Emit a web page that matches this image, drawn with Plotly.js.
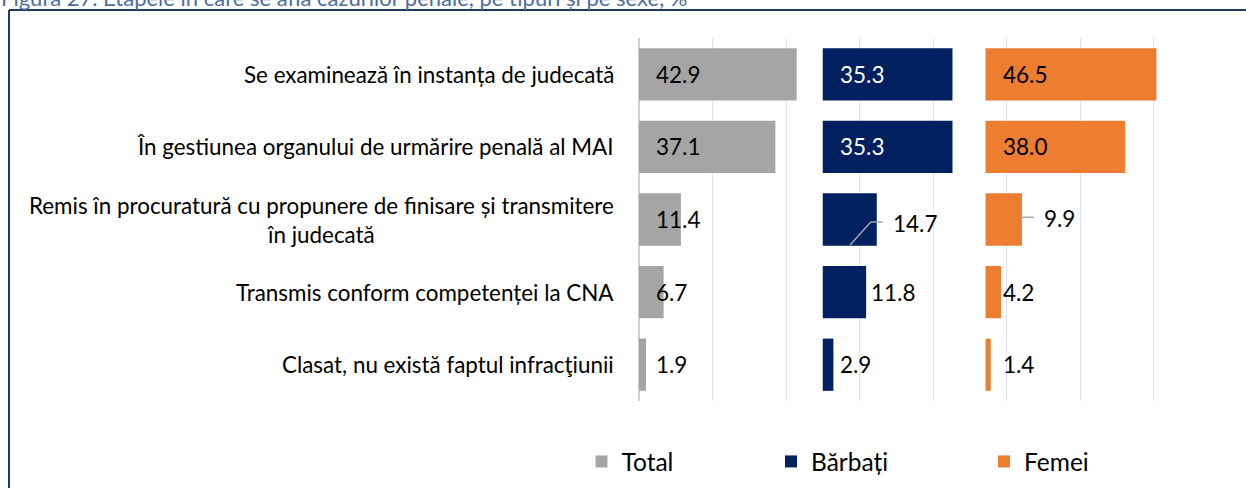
<!DOCTYPE html>
<html>
<head>
<meta charset="utf-8">
<script src="https://cdn.plot.ly/plotly-3.0.1.min.js"></script>
<style>
  html, body { margin: 0; padding: 0; background: #ffffff; }
  #chart { width: 1246px; height: 488px; }
</style>
</head>
<body>
<div id="chart"></div>
<script>
// ---------- DATA ----------
const chartTitle = 'Figura 27. Etapele în care se află cazurilor penale, pe tipuri și pe sexe, %';
const categories = [
  'Se examinează în instanța de judecată',
  'În gestiunea organului de urmărire penală al MAI',
  'Remis în procuratură cu propunere de finisare și transmitere<br>în judecată',
  'Transmis conform competenței la CNA',
  'Clasat, nu există faptul infracţiunii'
];
const seriesNames = ['Total', 'Bărbați', 'Femei'];
const totalValues = [42.9, 37.1, 11.4, 6.7, 1.9];
const menValues   = [35.3, 35.3, 14.7, 11.8, 2.9];
const womenValues = [46.5, 38.0, 9.9, 4.2, 1.4];

// ---------- LAYOUT / STYLE ----------
const W = 1246, H = 488;
const M = { l: 639, r: 19, t: 38, b: 87 };
const plotW = W - M.l - M.r, plotH = H - M.t - M.b;
const px2paperX = px => (px - M.l) / plotW;
const px2paperY = py => (H - M.b - py) / plotH;

const FONT = 'Lato, "Open Sans", sans-serif';
const colors = ['#A5A5A5', '#002060', '#ED7D31'];
const panelStart = [0, 50, 94.3];           // where each panel's bars begin on the shared axis
const allValues = [totalValues, menValues, womenValues];
const legendIds = ['legend', 'legend2', 'legend3'];
const legendCenters = [606.5, 796, 1009];   // pixel x of legend squares

// label placement overrides: [seriesIndex][categoryIndex]
const labelMode = {
  1: { 2: 'leader', 3: 'end' },
  2: { 2: 'leader' }
};

const traces = allValues.map((vals, s) => ({
  type: 'bar',
  orientation: 'h',
  name: seriesNames[s],
  y: categories,
  x: vals,
  base: vals.map(() => panelStart[s]),
  marker: { color: colors[s], line: { width: 0 } },
  width: 0.72,
  legend: legendIds[s],
  hoverinfo: 'skip'
}));

const annotations = [];

// title (cut at the top edge, as in the reference)
annotations.push({
  xref: 'paper', yref: 'paper',
  x: px2paperX(-1), y: px2paperY(-3),
  xanchor: 'left', yanchor: 'middle',
  text: chartTitle, showarrow: false,
  font: { family: FONT, size: 22, color: '#4E6E9E' }
});

// category labels
categories.forEach(c => {
  annotations.push({
    xref: 'paper', yref: 'y',
    x: 0, y: c, xanchor: 'right', yanchor: 'middle',
    xshift: -23, align: 'center',
    text: c, showarrow: false,
    font: { family: FONT, size: 22.4, color: '#000000' }
  });
});

// data labels
const shapes = [];
allValues.forEach((vals, s) => {
  vals.forEach((v, i) => {
    const mode = (labelMode[s] && labelMode[s][i]) || 'base';
    let x = panelStart[s], xshift = 15, yshift = 0;
    if (mode === 'end') { x = panelStart[s] + v; xshift = 3; }
    if (mode === 'leader') {
      x = panelStart[s] + v;
      if (s === 1) { xshift = 14; yshift = -4; }
      else { xshift = 20; yshift = 1; }
    }
    const dark = (s === 1 && mode === 'base' && v >= 20);
    annotations.push({
      xref: 'x', yref: 'y', x: x, y: categories[i],
      xanchor: 'left', yanchor: 'middle',
      xshift: xshift, yshift: yshift,
      text: v.toFixed(1), showarrow: false,
      font: { family: FONT, size: 22.5, color: dark ? '#ffffff' : '#000000' }
    });
    if (mode === 'leader') {
      const segs = (s === 1)
        ? [[6, -2.5, -6, -2.5], [-6, -2.5, -26.7, -25.5]]
        : [[-1, 2.2, 12, 2.2]];
      segs.forEach(sg => shapes.push({
        type: 'line', xref: 'x', yref: 'y',
        xsizemode: 'pixel', ysizemode: 'pixel',
        xanchor: panelStart[s] + v, yanchor: categories[i],
        x0: sg[0], y0: sg[1], x1: sg[2], y1: sg[3],
        line: { color: '#A6A6A6', width: 1.5 }, layer: 'above'
      }));
    }
  });
});

// outer frame (top and left edges)
shapes.push({ type: 'line', xref: 'paper', yref: 'paper',
  x0: px2paperX(9), x1: px2paperX(W + 2), y0: px2paperY(10), y1: px2paperY(10),
  line: { color: '#203864', width: 2 } });
shapes.push({ type: 'line', xref: 'paper', yref: 'paper',
  x0: px2paperX(9), x1: px2paperX(9), y0: px2paperY(10), y1: px2paperY(H + 2),
  line: { color: '#203864', width: 2 } });

const layout = {
  width: W, height: H,
  margin: M,
  paper_bgcolor: '#ffffff', plot_bgcolor: '#ffffff',
  barmode: 'overlay',
  showlegend: true,
  xaxis: {
    range: [0, 160], dtick: 20, tick0: 0,
    showticklabels: false, ticks: '',
    showgrid: true, gridcolor: '#DCE6F2', gridwidth: 1,
    zeroline: true, zerolinecolor: '#D0D0D0', zerolinewidth: 2,
    fixedrange: true
  },
  yaxis: {
    type: 'category', categoryorder: 'array', categoryarray: categories,
    autorange: 'reversed',
    showticklabels: false, ticks: '', showgrid: false, zeroline: false,
    fixedrange: true
  },
  annotations: annotations,
  shapes: shapes
};
legendIds.forEach((id, s) => {
  layout[id] = {
    orientation: 'h',
    xref: 'container', yref: 'container',
    x: (legendCenters[s] - 25) / W, xanchor: 'left',
    y: 1 - 461.5 / H, yanchor: 'middle',
    bgcolor: 'rgba(0,0,0,0)', borderwidth: 0,
    font: { family: FONT, size: 24.5, color: '#000000' }
  };
});

Plotly.newPlot('chart', traces, layout, { displayModeBar: false, staticPlot: true });
</script>
</body>
</html>
